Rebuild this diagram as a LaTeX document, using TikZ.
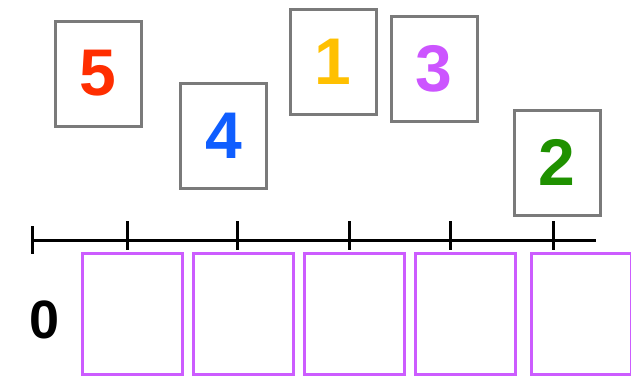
\documentclass[tikz,border=0pt]{standalone}
\usepackage{fontspec}
\setmainfont{Liberation Sans}
\begin{document}
\begin{tikzpicture}[x=1pt,y=-1pt,
  card/.style={draw=cardgray,line width=3pt,fill=white,inner sep=0pt,minimum width=86pt,minimum height=105pt,font=\fontsize{66}{66}\selectfont\bfseries},
  slot/.style={draw=slotpurple,line width=3pt,inner sep=0pt,minimum width=100pt,minimum height=121pt},
  axis/.style={line width=3pt,black},
  tickmark/.style={line width=3pt,black}]
\definecolor{cardgray}{HTML}{7A7A7A}
\definecolor{slotpurple}{HTML}{CC5CFF}
\definecolor{cred}{HTML}{FF2E00}
\definecolor{cblue}{HTML}{0F5EFF}
\definecolor{cyellow}{HTML}{FFC000}
\definecolor{cpurple}{HTML}{CC55FF}
\definecolor{cgreen}{HTML}{1F9100}
\useasboundingbox (0,0) rectangle (631,378);
% slots
\node[slot] (s1) at (132.5,314) {};
\node[slot] (s2) at (243.5,314) {};
\node[slot] (s3) at (354,314) {};
\node[slot] (s4) at (465,314) {};
\node[slot] (s5) at (581,314) {};
% number line
\coordinate (l0) at (32,240);
\coordinate (l1) at (596,240);
\draw[axis] (l0) -- (l1);
\coordinate (e0) at (32,226);
\coordinate (e1) at (32,254);
\draw[tickmark] (e0) -- (e1);
\foreach \i/\x in {1/127,2/237,3/349,4/450,5/553}{
  \coordinate (ta\i) at (\x,221);
  \coordinate (tb\i) at (\x,250);
  \draw[tickmark] (ta\i) -- (tb\i);
}
% zero
\node[font=\fontsize{54}{54}\selectfont\bfseries,inner sep=0pt] (zero) at (45,320) {0};
% cards
\node[card,text=cred] (c5) at (98,73.5) {5};
\node[card,text=cblue] (c4) at (223.5,135.5) {4};
\node[card,text=cyellow] (c1) at (333,61.5) {1};
\node[card,text=cpurple] (c3) at (434,68.5) {3};
\node[card,text=cgreen] (c2) at (557,162.5) {2};
\end{tikzpicture}
\end{document}
